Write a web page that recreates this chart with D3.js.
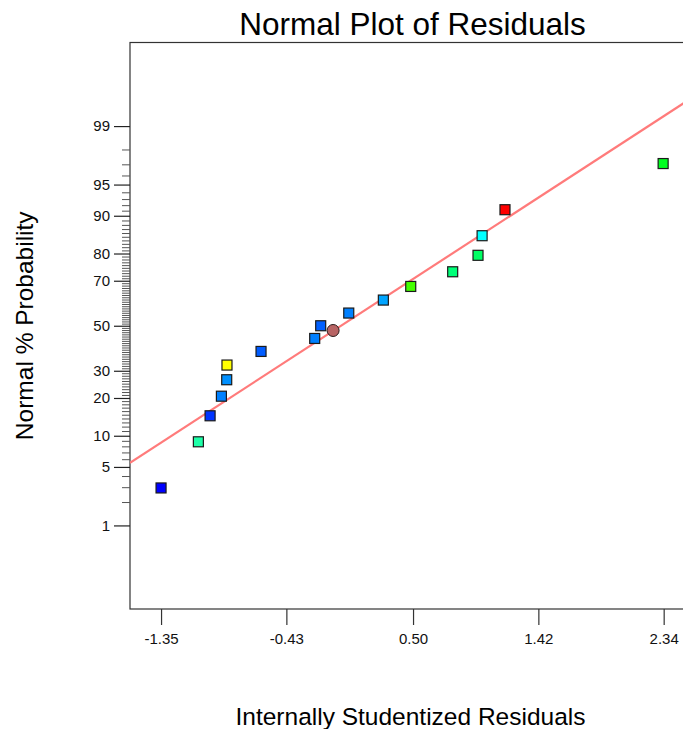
<!DOCTYPE html>
<html>
<head>
<meta charset="utf-8">
<script src="https://cdn.jsdelivr.net/npm/d3@7"></script>
<style>
  html, body { margin: 0; padding: 0; background: #fff; overflow: hidden; }
  svg { display: block; font-family: "Liberation Sans", Arial, sans-serif; }
</style>
</head>
<body>
<svg id="chart" width="683" height="729"></svg>
<script>
// ---- data ----
const residuals = [-1.350, -1.076, -0.990, -0.907, -0.868, -0.866, -0.616, -0.222, -0.178, 0.028, 0.282, 0.483, 0.791, 0.977, 1.007, 1.175, 2.336];
const probabilities = [2.94, 8.82, 14.71, 20.59, 26.47, 32.35, 38.24, 44.12, 50.0, 55.88, 61.76, 67.65, 73.53, 79.41, 85.29, 91.18, 97.06];
const pointColors = ["#0000ff", "#1effa8", "#0034ff", "#0080ff", "#0090ff", "#ffff00", "#005cff", "#0080ff", "#0060ff", "#0080ff", "#00a4ff", "#44ff00", "#00ff78", "#00ff64", "#00ffff", "#ff0000", "#00ff20"];
const circleResidual = [-0.087];
const circleProbability = [47.8];
const lineResiduals = [-1.578, 2.57];
const lineProbabilities = [5.51, 99.63];
const xTicks = [-1.35, -0.43, 0.50, 1.42, 2.34];
const yTicks = [1, 5, 10, 20, 30, 50, 70, 80, 90, 95, 99];
const yMinorTicks = d3.range(1, 100);
const xDomain = [-1.578, 2.57];
const zDomain = [-3.3, 3.3];

// inverse normal CDF (Acklam)
function probit(p) {
  const a = [-3.969683028665376e+01, 2.209460984245205e+02, -2.759285104469687e+02, 1.383577518672690e+02, -3.066479806614716e+01, 2.506628277459239e+00];
  const b = [-5.447609879822406e+01, 1.615858368580409e+02, -1.556989798598866e+02, 6.680131188771972e+01, -1.328068155288572e+01];
  const c = [-7.784894002430293e-03, -3.223964580411365e-01, -2.400758277161838e+00, -2.549732539343734e+00, 4.374664141464968e+00, 2.938163982698783e+00];
  const d = [7.784695709041462e-03, 3.224671290700398e-01, 2.445134137142996e+00, 3.754408661907416e+00];
  const pl = 0.02425, ph = 1 - pl;
  let q, r;
  if (p < pl) {
    q = Math.sqrt(-2 * Math.log(p));
    return (((((c[0]*q+c[1])*q+c[2])*q+c[3])*q+c[4])*q+c[5]) / ((((d[0]*q+d[1])*q+d[2])*q+d[3])*q+1);
  } else if (p <= ph) {
    q = p - 0.5; r = q*q;
    return (((((a[0]*r+a[1])*r+a[2])*r+a[3])*r+a[4])*r+a[5])*q / (((((b[0]*r+b[1])*r+b[2])*r+b[3])*r+b[4])*r+1);
  } else {
    q = Math.sqrt(-2 * Math.log(1 - p));
    return -(((((c[0]*q+c[1])*q+c[2])*q+c[3])*q+c[4])*q+c[5]) / ((((d[0]*q+d[1])*q+d[2])*q+d[3])*q+1);
  }
}

// ---- layout ----
const mLeft = 130, mRight = 695, mTop = 42.5, mBottom = 609;
const svg = d3.select("#chart");

const x = d3.scaleLinear().domain(xDomain).range([mLeft, mRight]);
const yz = d3.scaleLinear().domain(zDomain).range([mBottom, mTop]);
const y = p => yz(probit(p / 100));

// frame
svg.append("rect")
  .attr("x", mLeft).attr("y", mTop)
  .attr("width", mRight - mLeft).attr("height", mBottom - mTop)
  .attr("fill", "none").attr("stroke", "#333").attr("stroke-width", 1.2);

// minor y ticks
const minorAxis = d3.axisLeft(yz)
  .tickValues(yMinorTicks.filter(v => !yTicks.includes(v)).map(v => probit(v / 100)))
  .tickSize(8).tickFormat("");
const gMinor = svg.append("g").attr("transform", `translate(${mLeft},0)`).call(minorAxis);
gMinor.select(".domain").remove();
gMinor.selectAll(".tick line").attr("stroke", "#555").attr("stroke-width", 1);

// major y ticks
const yAxis = d3.axisLeft(yz)
  .tickValues(yTicks.map(v => probit(v / 100)))
  .tickFormat((d, i) => yTicks[i])
  .tickSize(16).tickPadding(4);
const gY = svg.append("g").attr("transform", `translate(${mLeft},0)`).call(yAxis);
gY.select(".domain").remove();
gY.selectAll(".tick line").attr("stroke", "#222").attr("stroke-width", 1.2);
gY.selectAll(".tick text").attr("font-size", 15).attr("fill", "#111")
  .attr("font-family", "Liberation Sans, Arial, sans-serif");

// x axis
const xAxis = d3.axisBottom(x).tickValues(xTicks).tickFormat(d => d.toFixed(2))
  .tickSize(16).tickPadding(8);
const gX = svg.append("g").attr("transform", `translate(0,${mBottom})`).call(xAxis);
gX.select(".domain").remove();
gX.selectAll(".tick line").attr("stroke", "#333").attr("stroke-width", 1.2);
gX.selectAll(".tick text").attr("font-size", 15).attr("fill", "#111")
  .attr("font-family", "Liberation Sans, Arial, sans-serif");

// clip for plot area
svg.append("clipPath").attr("id", "plotclip")
  .append("rect").attr("x", mLeft).attr("y", mTop).attr("width", mRight - mLeft).attr("height", mBottom - mTop);

// fitted line
svg.append("path")
  .attr("clip-path", "url(#plotclip)")
  .datum(lineResiduals.map((r, i) => [r, lineProbabilities[i]]))
  .attr("d", d3.line().x(d => x(d[0])).y(d => y(d[1])))
  .attr("stroke", "#ff7b7b").attr("stroke-width", 2.2).attr("fill", "none");

// squares
const sq = 10;
svg.append("g").selectAll("rect")
  .data(residuals.map((r, i) => ({ r, p: probabilities[i], c: pointColors[i] })))
  .join("rect")
  .attr("x", d => x(d.r) - sq / 2)
  .attr("y", d => y(d.p) - sq / 2)
  .attr("width", sq).attr("height", sq)
  .attr("fill", d => d.c)
  .attr("stroke", "#1a1a1a").attr("stroke-width", 1.2);

// circle
svg.append("g").selectAll("circle")
  .data(circleResidual.map((r, i) => ({ r, p: circleProbability[i] })))
  .join("circle")
  .attr("cx", d => x(d.r)).attr("cy", d => y(d.p)).attr("r", 6)
  .attr("fill", "#b86464").attr("stroke", "#2a1a1a").attr("stroke-width", 1);

// title and axis labels
svg.append("text")
  .attr("x", (mLeft + mRight) / 2).attr("y", 35)
  .attr("text-anchor", "middle").attr("font-size", 31.5).attr("fill", "#000")
  .text("Normal Plot of Residuals");

svg.append("text")
  .attr("x", (mLeft + mRight) / 2 - 2).attr("y", 725)
  .attr("text-anchor", "middle").attr("font-size", 24.5).attr("fill", "#000")
  .text("Internally Studentized Residuals");

svg.append("text")
  .attr("transform", `translate(33,${yz(0)}) rotate(-90)`)
  .attr("text-anchor", "middle").attr("font-size", 24.5).attr("fill", "#000")
  .text("Normal % Probability");
</script>
</body>
</html>
